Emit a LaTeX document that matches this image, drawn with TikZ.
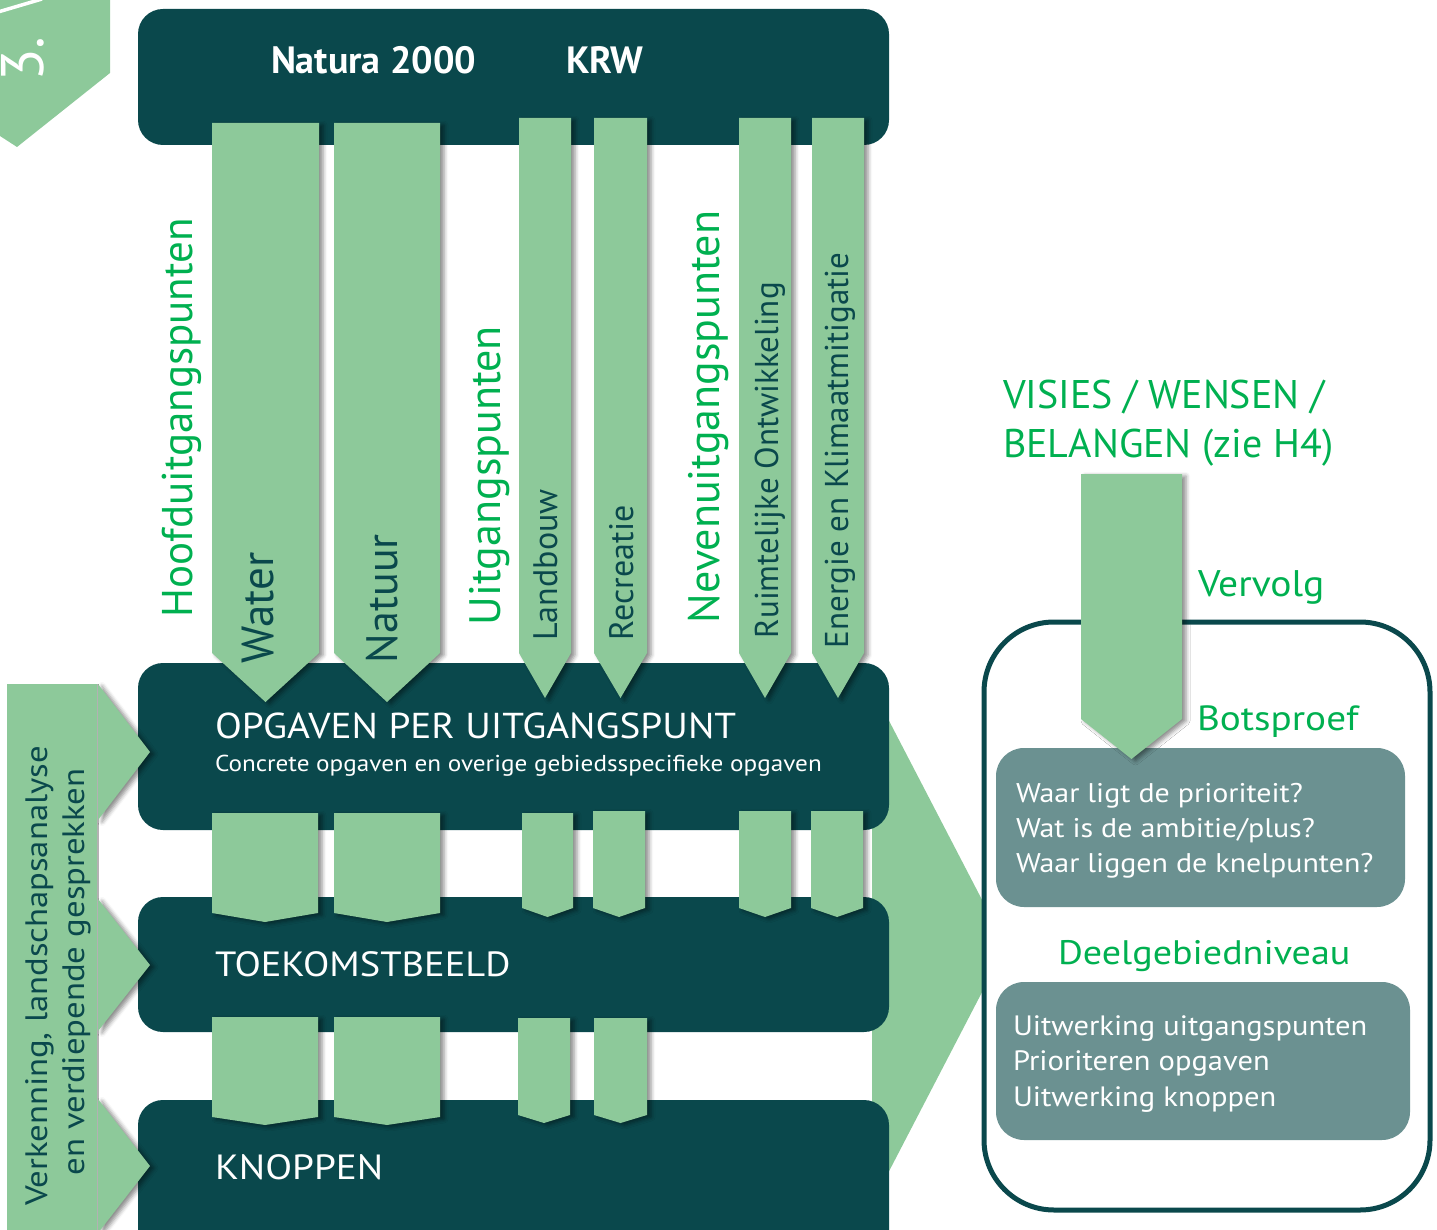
\documentclass[tikz,border=0pt]{standalone}
\usepackage{fontspec}
\setmainfont{PT Sans}
\usetikzlibrary{shadows.blur}
\definecolor{dk}{RGB}{10,72,76}
\definecolor{lg}{RGB}{141,201,154}
\definecolor{tg}{RGB}{0,176,80}
\definecolor{bx}{RGB}{107,145,145}
\newcommand\fsz[1]{\fontsize{#1}{#1}\selectfont}
\newcommand\fst[2]{\fontsize{#1}{#1}\selectfont\addfontfeature{FakeStretch=#2}}
\newcommand\colarr[5]{\fill[arr] (#1,#3) -- (#2,#3) -- (#2,#4) -- ({(#1+#2)/2},#5) -- (#1,#4) -- cycle;}
\begin{document}
\begin{tikzpicture}[x=1pt,y=-1pt,
  shd/.style={blur shadow={shadow xshift=4pt,shadow yshift=-2pt,shadow blur radius=4pt,shadow opacity=45}},
  band/.style={fill=dk, rounded corners=25pt},
  arr/.style={fill=lg, shd},
  txt/.style={inner sep=0pt, outer sep=0pt},
  vtxt/.style={txt, rotate=90, anchor=base west},
  htxt/.style={txt, anchor=base west},
]
\useasboundingbox (0,0) rectangle (1437,1230);
\clip (0,0) rectangle (1437,1230);
% badge
\fill[lg] (0,0) -- (110,0) -- (110,73) -- (17,147) -- (0,136) -- cycle;
\draw[white, line width=3.5pt] (-2,12) -- (42,-1);
\node[vtxt, text=white, font={\fsz{60}}] (num) at (43,82) {3.};
% big right arrow
\fill[lg] (872,688) -- (1006,946) -- (872,1204) -- cycle;
% bands
\fill[band] (138,9) rectangle (889,145);
\fill[band] (138,663) rectangle (889,830);
\fill[band] (138,897) rectangle (889,1032);
\fill[band] (138,1100) rectangle (889,1290);
% left band
\fill[lg] (7,684) rectangle (98,1240);
\draw[black!30, line width=1.5pt] (98,684) -- (98,1240);
\fill[arr] (98,684) -- (150,752) -- (98,820) -- cycle;
\fill[arr] (98,899) -- (150,965) -- (98,1031) -- cycle;
\fill[arr] (98,1099) -- (150,1166) -- (98,1233) -- cycle;
% column arrows
\colarr{212}{319}{123}{653}{702}
\colarr{334}{440}{123}{653}{702}
\colarr{519}{571}{118}{653}{698}
\colarr{594}{647}{118}{653}{698}
\colarr{739}{791}{118}{653}{698}
\colarr{812}{864}{118}{653}{698}
% short arrows row 1
\colarr{212}{318}{813}{913}{922}
\colarr{334}{440}{813}{913}{922}
\colarr{522}{573}{813}{908}{917}
\colarr{593}{645}{811}{908}{917}
\colarr{739}{791}{811}{908}{917}
\colarr{811}{863}{811}{908}{917}
% short arrows row 2
\colarr{212}{318}{1017}{1117}{1125}
\colarr{334}{440}{1017}{1117}{1125}
\colarr{518}{570}{1018}{1115}{1123}
\colarr{594}{647}{1018}{1115}{1123}
% right panel
\draw[dk, line width=5pt, fill=white, rounded corners=70pt] (984,622) rectangle (1430,1210);
\fill[bx, rounded corners=28pt] (996,748) rectangle (1405,907);
\fill[bx, rounded corners=28pt] (996,982) rectangle (1410,1140);
\colarr{1081}{1182}{474}{719}{759}
% texts
\node[htxt, text=white, font={\fsz{38}\bfseries}] (natura) at (271,74) {Natura 2000};
\node[htxt, text=white, font={\fsz{38}\bfseries}] (krw) at (566,74) {KRW};
\node[vtxt, text=tg, font={\fsz{43}}] (hoofd) at (192,617) {Hoofduitgangspunten};
\node[vtxt, text=dk, font={\fsz{45}}] (water) at (273,663) {Water};
\node[vtxt, text=dk, font={\fsz{44}}] (natuur) at (397,663) {Natuur};
\node[vtxt, text=tg, font={\fsz{44}}] (uitg) at (500,625) {Uitgangspunten};
\node[vtxt, text=dk, font={\fsz{34}}] (landb) at (557,640) {Landbouw};
\node[vtxt, text=dk, font={\fsz{34}}] (recr) at (633,640) {Recreatie};
\node[vtxt, text=tg, font={\fsz{44}}] (neven) at (719,623) {Nevenuitgangspunten};
\node[vtxt, text=dk, font={\fsz{33}}] (ruimt) at (778,638) {Ruimtelijke Ontwikkeling};
\node[vtxt, text=dk, font={\fsz{33}}] (energie) at (848,648) {Energie en Klimaatmitigatie};
\node[txt, rotate=90, anchor=base, text=dk, font={\fst{31}{1.12}}] (ver1) at (47,976) {Verkenning, landschapsanalyse};
\node[txt, rotate=90, anchor=base, text=dk, font={\fst{31}{1.12}}] (ver2) at (84,972) {en verdiepende gesprekken};
\node[htxt, text=white, font={\fst{36}{1.09}}] (opg) at (215,738) {OPGAVEN PER UITGANGSPUNT};
\node[htxt, text=white, font={\fst{23}{1.095}}] (conc) at (215,771) {Concrete opgaven en overige gebiedsspecifieke opgaven};
\node[htxt, text=white, font={\fst{35}{1.1}}] (toek) at (215,976) {TOEKOMSTBEELD};
\node[htxt, text=white, font={\fst{35}{1.12}}] (knop) at (215,1179) {KNOPPEN};
\node[htxt, text=tg, font={\fsz{40}}] (vis1) at (1003,408) {VISIES / WENSEN /};
\node[htxt, text=tg, font={\fsz{40}}] (vis2) at (1003,457) {BELANGEN (zie H4)};
\node[htxt, text=tg, font={\fst{37}{1.07}}] (vervolg) at (1198,596) {Vervolg};
\node[htxt, text=tg, font={\fst{35}{1.12}}] (bots) at (1197,730) {Botsproef};
\node[htxt, text=white, font={\fst{27}{1.11}}] (b1a) at (1016,802) {Waar ligt de prioriteit?};
\node[htxt, text=white, font={\fst{27}{1.11}}] (b1b) at (1016,837) {Wat is de ambitie/plus?};
\node[htxt, text=white, font={\fst{27}{1.11}}] (b1c) at (1016,872) {Waar liggen de knelpunten?};
\node[htxt, text=tg, font={\fst{34}{1.12}}] (deel) at (1058,964) {Deelgebiedniveau};
\node[htxt, text=white, font={\fst{28}{1.09}}] (b2a) at (1013,1035) {Uitwerking uitgangspunten};
\node[htxt, text=white, font={\fst{28}{1.09}}] (b2b) at (1013,1070) {Prioriteren opgaven};
\node[htxt, text=white, font={\fst{28}{1.09}}] (b2c) at (1013,1106) {Uitwerking knoppen};
\end{tikzpicture}
\end{document}
